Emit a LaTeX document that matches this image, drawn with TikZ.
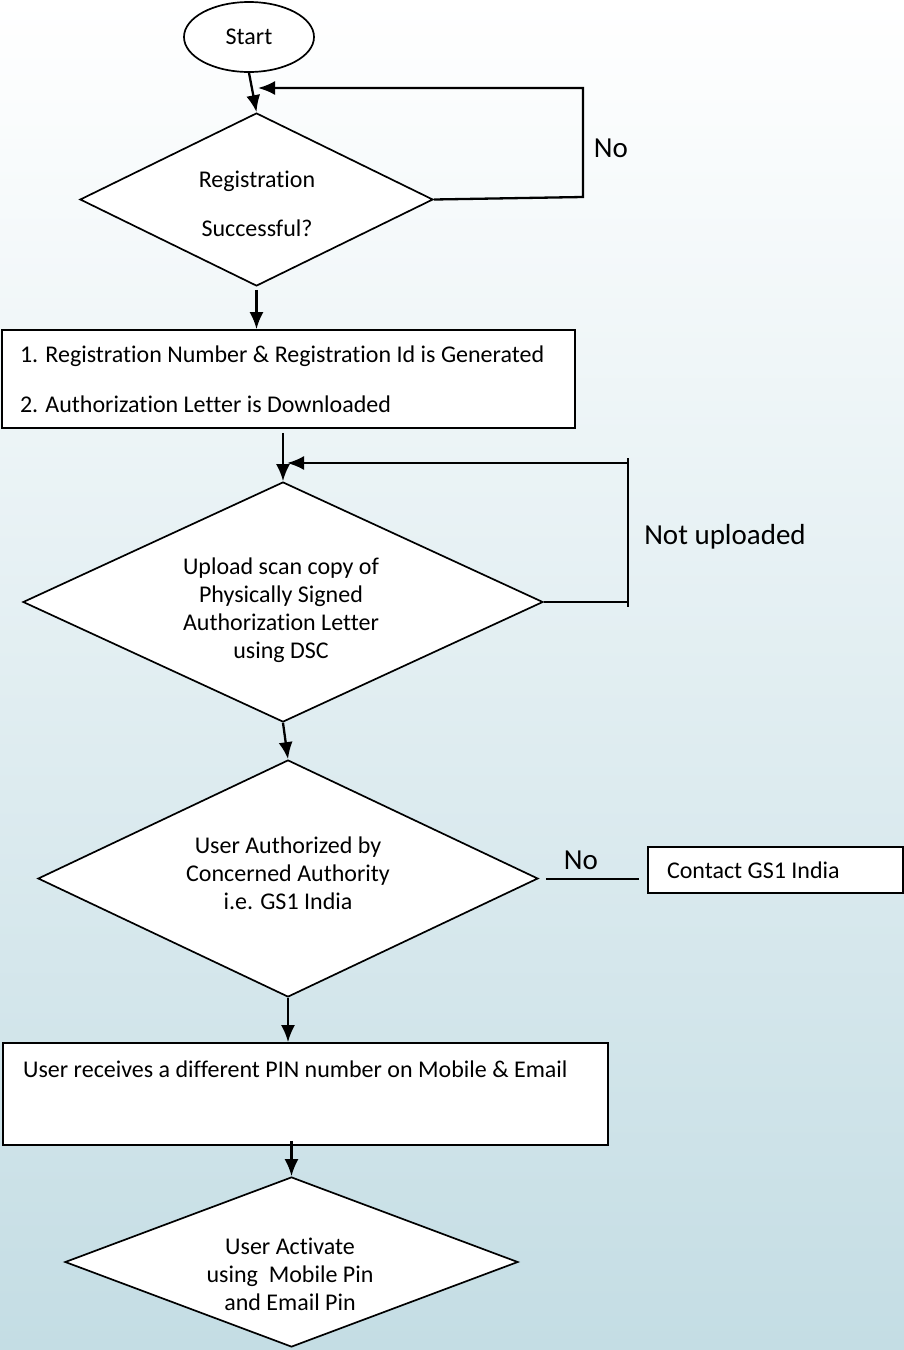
\documentclass[tikz,border=0pt]{standalone}
\usepackage{fontspec}
\setmainfont{Carlito}[Ligatures=NoCommon]
\usetikzlibrary{shapes.geometric,arrows.meta}
\definecolor{bgtop}{RGB}{255,255,255}
\definecolor{bgbot}{RGB}{196,221,228}
\begin{document}
\begin{tikzpicture}[x=1pt,y=-1pt,
  every node/.style={font=\fontsize{24}{28}\selectfont},
  shp/.style={draw=black, fill=white, line width=1.7pt},
  dia/.style={shp, diamond, inner sep=0pt},
  box/.style={shp, rectangle, inner sep=0pt},
  arr/.style={line width=2.3pt, -{Latex[length=17pt,width=14pt]}},
  ln/.style={line width=2pt},
  lbl/.style={font=\fontsize{29}{33}\selectfont}
]
\useasboundingbox (0,0) rectangle (904,1350);
\shade[top color=bgtop, bottom color=bgbot] (0,0) rectangle (904,1350);

% shapes
\node[shp, ellipse, minimum width=130pt, minimum height=70pt, inner sep=0pt] (start) at (249,37) {Start};
\node[dia, minimum width=353pt, minimum height=173pt] (d1) at (256.5,199.5) {};
\node[align=center, font=\fontsize{24}{49}\selectfont] (d1t) at (257,204) {Registration\\Successful?};

\node[box, minimum width=573pt, minimum height=98pt, text width=537pt, inner xsep=18pt, align=flush left,
      font=\fontsize{24}{50}\selectfont] (b1) at (288.5,379)
      {1. Registration Number \& Registration Id is Generated\\2. Authorization Letter is Downloaded};

\node[dia, minimum width=520pt, minimum height=240pt] (d2) at (283,602) {};
\node[align=center] (d2t) at (281,610) {Upload scan copy of\\Physically Signed\\Authorization Letter\\using DSC};

\node[dia, minimum width=500pt, minimum height=237pt] (d3) at (288,878.5) {};
\node[align=center] (d3t) at (288,873) {User Authorized by\\Concerned Authority\\i.e. GS1 India};

\node[box, minimum width=255pt, minimum height=46pt, text width=217pt, inner xsep=19pt, align=flush left] (c) at (775.5,870) {Contact GS1 India};

\node[box, minimum width=605pt, minimum height=102pt] (b3) at (305.5,1094) {};
\node[anchor=west, inner sep=0pt] (b3t) at (23,1069) {User receives a different PIN number on Mobile \& Email};

\node[dia, minimum width=453pt, minimum height=170pt] (d4) at (291.5,1262) {};
\node[align=center] (d4t) at (290,1274) {User Activate\\using\ \ Mobile Pin\\and Email Pin};

% labels
\node[lbl] (no1) at (611,148) {No};
\node[lbl] (nu) at (725,537) {Not uploaded};
\node[lbl] (no2) at (581,860) {No};

% connectors
\draw[arr] (start.south) -- (d1.north);
\coordinate (r1) at (583,197);
\coordinate (r1t) at (583,88);
\coordinate (m1) at (258,88);
\draw[arr] (d1.east) -- (r1) -- (r1t) -- (m1);

\draw[arr, shorten <=3pt] (d1.south) -- (d1.south |- b1.north);
\draw[arr, shorten <=4pt] (b1.south -| d2.north) -- (d2.north);

\coordinate (r2) at (628,602);
\coordinate (r2t) at (628,463);
\coordinate (m2) at (287,463);
\draw[arr] (d2.east) -- (r2) -- (r2t) -- (m2);
\draw[ln] (r2t) -- ++(0,-5);
\draw[ln] (r2) -- ++(0,5);

\draw[arr] (d2.south) -- (d3.north);
\draw[ln, shorten <=7pt, shorten >=8pt] (d3.east) -- (d3.east -| c.west);
\draw[arr] (d3.south) -- (d3.south |- b3.north);
\draw[arr] ([yshift=5pt]b3.south -| d4.north) -- (d4.north);
\end{tikzpicture}
\end{document}
